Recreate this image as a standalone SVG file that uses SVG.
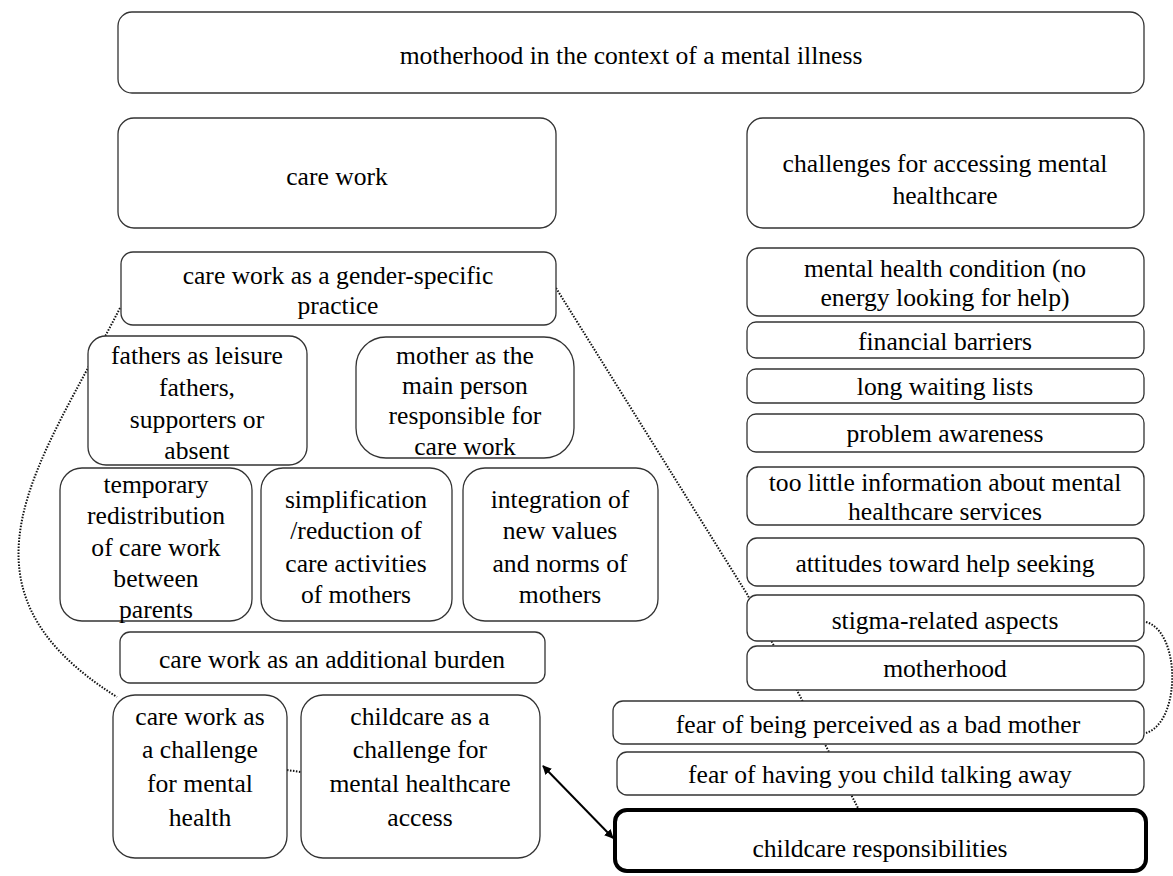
<svg xmlns="http://www.w3.org/2000/svg" width="1173" height="876" viewBox="0 0 1173 876">
<style>
  .box{fill:#fff;stroke:#333;stroke-width:1.3}
  .thick{fill:#fff;stroke:#000;stroke-width:4}
  text{font-family:"Liberation Serif","Times New Roman",serif;font-size:25.6px;fill:#000;text-anchor:middle}
  .dot{fill:none;stroke:#111;stroke-width:2;stroke-dasharray:1.5 1.5}
  .arr{fill:none;stroke:#000;stroke-width:2}
</style>
<defs>
  <marker id="ah" viewBox="0 0 10 10" refX="9" refY="5" markerWidth="9" markerHeight="9" markerUnits="userSpaceOnUse" orient="auto-start-reverse">
    <path d="M0,0 L10,5 L0,10 z" fill="#000"/>
  </marker>
</defs>
<rect width="1173" height="876" fill="#fff"/>
<g id="connectors">
  <path class="dot" d="M120,308 C40,464 -60,586 117,697"/>
  <path class="dot" d="M556,288 L747,594 L858,808"/>
  <path class="dot" d="M1146,622 C1181,632 1181,722 1146,733"/>
  <path class="dot" d="M287,770 L301,772"/>
  <path class="arr" d="M543,766 L613,838" marker-start="url(#ah)" marker-end="url(#ah)"/>
</g>
<g id="n_title"><rect class="box" x="118" y="12" width="1026" height="81" rx="14"/><text x="631" y="64">motherhood in the context of a mental illness</text></g>
<g id="n_carework"><rect class="box" x="118" y="118" width="438" height="110" rx="16"/><text x="337" y="185">care work</text></g>
<g id="n_challenges"><rect class="box" x="747" y="118" width="397" height="110" rx="16"/><text x="945" y="172">challenges for accessing mental</text><text x="945" y="204">healthcare</text></g>
<g id="n_gender"><rect class="box" x="121" y="252" width="435" height="73" rx="12"/><text x="338" y="284">care work as a gender-specific</text><text x="338" y="314">practice</text></g>
<g id="n_fathers"><rect class="box" x="88" y="336" width="219" height="129" rx="18"/><text x="197" y="364">fathers as leisure</text><text x="197" y="396">fathers,</text><text x="197" y="428">supporters or</text><text x="197" y="459">absent</text></g>
<g id="n_mother"><rect class="box" x="356" y="337" width="218" height="121" rx="30"/><text x="465" y="364">mother as the</text><text x="465" y="394">main person</text><text x="465" y="424">responsible for</text><text x="465" y="455">care work</text></g>
<g id="n_temporary"><rect class="box" x="60" y="468" width="192" height="153" rx="22"/><text x="156" y="493">temporary</text><text x="156" y="524">redistribution</text><text x="156" y="556">of care work</text><text x="156" y="587">between</text><text x="156" y="618">parents</text></g>
<g id="n_simplification"><rect class="box" x="261" y="468" width="191" height="153" rx="22"/><text x="356" y="508">simplification</text><text x="356" y="539">/reduction of</text><text x="356" y="572">care activities</text><text x="356" y="603">of mothers</text></g>
<g id="n_integration"><rect class="box" x="463" y="468" width="195" height="153" rx="22"/><text x="560" y="508">integration of</text><text x="560" y="539">new values</text><text x="560" y="572">and norms of</text><text x="560" y="603">mothers</text></g>
<g id="n_burden"><rect class="box" x="120" y="632" width="425" height="51" rx="10"/><text x="332" y="668">care work as an additional burden</text></g>
<g id="n_cw_challenge"><rect class="box" x="113" y="695" width="174" height="163" rx="22"/><text x="200" y="725">care work as</text><text x="200" y="758">a challenge</text><text x="200" y="792">for mental</text><text x="200" y="826">health</text></g>
<g id="n_cc_challenge"><rect class="box" x="301" y="695" width="239" height="163" rx="22"/><text x="420" y="725">childcare as a</text><text x="420" y="758">challenge for</text><text x="420" y="792">mental healthcare</text><text x="420" y="826">access</text></g>
<g id="n_condition"><rect class="box" x="747" y="248" width="397" height="68" rx="12"/><text x="945" y="277">mental health condition (no</text><text x="945" y="306">energy looking for help)</text></g>
<g id="n_financial"><rect class="box" x="747" y="322" width="397" height="36" rx="9"/><text x="945" y="350">financial barriers</text></g>
<g id="n_waiting"><rect class="box" x="747" y="369" width="397" height="34" rx="9"/><text x="945" y="395">long waiting lists</text></g>
<g id="n_awareness"><rect class="box" x="747" y="414" width="397" height="38" rx="9"/><text x="945" y="442">problem awareness</text></g>
<g id="n_information"><rect class="box" x="747" y="467" width="397" height="58" rx="11"/><text x="945" y="491">too little information about mental</text><text x="945" y="520">healthcare services</text></g>
<g id="n_attitudes"><rect class="box" x="747" y="538" width="397" height="48" rx="10"/><text x="945" y="572">attitudes toward help seeking</text></g>
<g id="n_stigma"><rect class="box" x="747" y="595" width="397" height="46" rx="10"/><text x="945" y="629">stigma-related aspects</text></g>
<g id="n_motherhood"><rect class="box" x="747" y="646" width="397" height="44" rx="10"/><text x="945" y="677">motherhood</text></g>
<g id="n_badmother"><rect class="box" x="613" y="701" width="531" height="43" rx="10"/><text x="878" y="733">fear of being perceived as a bad mother</text></g>
<g id="n_childaway"><rect class="box" x="617" y="752" width="527" height="43" rx="10"/><text x="880" y="783">fear of having you child talking away</text></g>
<g id="n_childcare"><rect class="thick" x="615" y="810" width="531" height="61" rx="12"/><text x="880" y="857">childcare responsibilities</text></g>
</svg>
